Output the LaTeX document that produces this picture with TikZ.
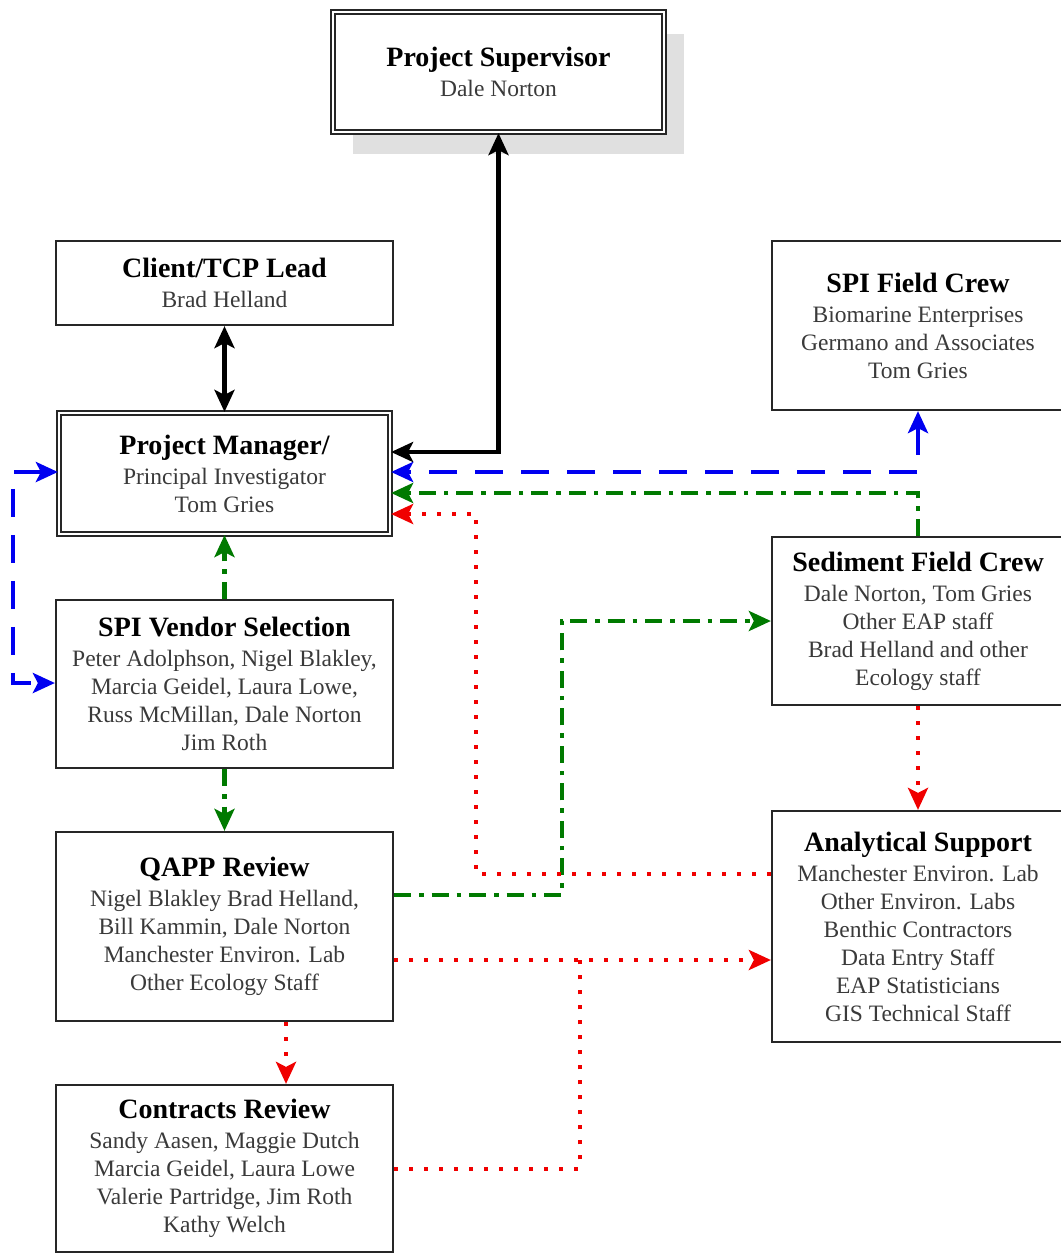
\documentclass[tikz,border=0pt]{standalone}
\usepackage{fontspec}
\setmainfont{Liberation Serif}
\usetikzlibrary{arrows.meta,shadows,backgrounds}
\newcommand\bodyfnt{\fontsize{23.5}{28}\selectfont}
\newcommand\ttl[1]{{\fontsize{28}{31}\selectfont\bfseries\color{black}#1}\\[2pt]}
\definecolor{txtgray}{HTML}{3A3A3A}
\definecolor{dgreen}{HTML}{007A00}
\definecolor{lblue}{HTML}{0000F0}
\definecolor{lred}{HTML}{F00000}
\begin{document}
\begin{tikzpicture}[x=1pt,y=-1pt,
  >={Stealth[length=22pt,width=20pt,inset=5pt]},
  box/.style={draw=black!85,line width=2.2pt,fill=white,inner sep=0pt,align=center,font=\bodyfnt,text=txtgray},
  lbox/.style={box,minimum width=337pt},
  rbox/.style={box,minimum width=292pt},
  dbl/.style={draw=black!85,double=white,line width=2.2pt,double distance=2.5pt,minimum width=331pt},
  blk/.style={black,line width=4.5pt},
  bluedash/.style={lblue,line width=4.5pt,dash pattern=on 28pt off 18pt},
  greendash/.style={dgreen,line width=4.5pt,dash pattern=on 17pt off 8pt on 4.5pt off 8pt},
  reddot/.style={lred,line width=4pt,dash pattern=on 4pt off 11pt}
]
\clip (0,0) rectangle (1061,1254);
\fill[white] (0,0) rectangle (1061,1254);

% nodes
\node[box,dbl,minimum height=120pt,general shadow={fill=black!12,shadow xshift=20pt,shadow yshift=-22pt}] (ps) at (498.5,72)
  {\ttl{Project Supervisor}Dale Norton};
\node[lbox,minimum height=84pt] (client) at (224.5,283)
  {\ttl{Client/TCP Lead}Brad Helland};
\node[box,dbl,minimum height=121pt] (pm) at (224.5,473.5)
  {\ttl{Project Manager/}Principal Investigator\\Tom Gries};
\node[lbox,minimum height=168pt] (vendor) at (224.5,684)
  {\ttl{SPI Vendor Selection}Peter Adolphson, Nigel Blakley,\\Marcia Geidel, Laura Lowe,\\Russ McMillan, Dale Norton\\Jim Roth};
\node[lbox,minimum height=189pt] (qapp) at (224.5,926.5)
  {\ttl{QAPP Review}Nigel Blakley Brad Helland,\\Bill Kammin, Dale Norton\\Manchester Environ. Lab\\Other Ecology Staff};
\node[lbox,minimum height=167pt] (contracts) at (224.5,1168.5)
  {\ttl{Contracts Review}Sandy Aasen, Maggie Dutch\\Marcia Geidel, Laura Lowe\\Valerie Partridge, Jim Roth\\Kathy Welch};
\node[rbox,minimum height=169pt] (field) at (918,325.5)
  {\ttl{SPI Field Crew}Biomarine Enterprises\\Germano and Associates\\Tom Gries};
\node[rbox,minimum height=168pt] (sediment) at (918,621)
  {\ttl{Sediment Field Crew}Dale Norton, Tom Gries\\Other EAP staff\\Brad Helland and other\\Ecology staff};
\node[rbox,minimum height=231pt] (analytical) at (918,926.5)
  {\ttl{Analytical Support}Manchester Environ. Lab\\Other Environ. Labs\\Benthic Contractors\\Data Entry Staff\\EAP Statisticians\\GIS Technical Staff};

% bend points
\coordinate (rbend) at (476,514);
\coordinate (lbend) at (13,580);
\coordinate (gbend) at (562,621);
\coordinate (rjoin) at (580,960);

% connector hidden behind the vendor box
\begin{pgfonlayer}{background}
\draw[reddot] ([xshift=61.5pt]pm.south) -- ([xshift=61.5pt]qapp.north);
\end{pgfonlayer}

% black
\draw[blk,<->] (ps.south) |- ([yshift=21.5pt]pm.east);
\draw[blk,<->] (client.south) -- (pm.north);

% blue
\draw[bluedash,<->] (field.south) |- ([yshift=1.5pt]pm.east);
\draw[bluedash,<->] ([yshift=1.5pt]pm.west) -| (lbend) |- ([yshift=1pt]vendor.west);

% green
\draw[greendash,->] (sediment.north) |- ([yshift=-19.5pt]pm.east);
\draw[greendash,->] (vendor.north) -- (pm.south);
\draw[greendash,->] (vendor.south) -- (qapp.north);
\draw[greendash,->] ([yshift=31.5pt]qapp.east) -| (gbend) -- (sediment.west);

% red
\draw[reddot,->] ([yshift=52.5pt]analytical.west) -| (rbend) -- ([yshift=-40.5pt]pm.east);
\draw[reddot,->] ([yshift=-33.5pt]qapp.east) -- ([yshift=-33.5pt]analytical.west);
\draw[reddot] (contracts.east) -| (rjoin);
\draw[reddot,->] (sediment.south) -- (analytical.north);
\draw[reddot,->] ([xshift=61.5pt]qapp.south) -- ([xshift=61.5pt]contracts.north);
\end{tikzpicture}
\end{document}
